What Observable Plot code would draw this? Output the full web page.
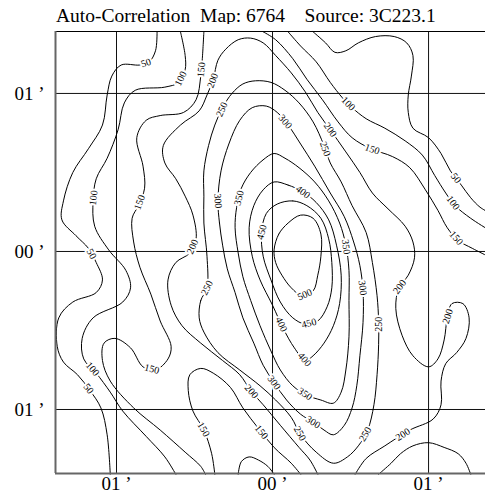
<!DOCTYPE html>
<html>
<head>
<meta charset="utf-8">
<script src="https://cdn.jsdelivr.net/npm/d3@7"></script>
<script src="https://cdn.jsdelivr.net/npm/@observablehq/plot@0.6"></script>
<style>
  html, body { margin: 0; padding: 0; background: #fff; }
  #wrap { position: relative; width: 485px; height: 494px; overflow: hidden; font-family: "Liberation Serif", "DejaVu Serif", serif; }
  #title { position: absolute; left: 56px; top: 6px; font-size: 19.5px; line-height: 20px; white-space: pre; color: #000; }
  #chart { position: absolute; left: 0; top: 24px; }
</style>
</head>
<body>
<div id="wrap">
  <div id="title">Auto-Correlation  Map: 6764    Source: 3C223.1</div>
  <div id="chart"></div>
</div>
<script>
// Offsets are in arcminutes from the map centre (x east-west, y north-south).
const xDomain = [-1.391, 1.365];
const yDomain = [-1.405, 1.392];
const gridTicks = [-1, 0, 1];

// Contour traces: [x, y] vertices along each level line.
const c50west = [[-0.74,1.39],[-0.75,1.27],[-0.79,1.20],[-0.85,1.18],[-0.97,1.18],[-1.03,1.11],[-1.06,0.99],[-1.09,0.80],[-1.18,0.65],[-1.28,0.50],[-1.34,0.32],[-1.35,0.20],[-1.26,0.10],[-1.18,0.02],[-1.13,-0.07],[-1.09,-0.18],[-1.13,-0.26],[-1.28,-0.32],[-1.37,-0.42],[-1.38,-0.60],[-1.34,-0.70],[-1.25,-0.78],[-1.17,-0.88],[-1.10,-0.99],[-1.06,-1.16],[-1.04,-1.41]];
const c50east = [[0.26,1.39],[0.34,1.32],[0.40,1.26],[0.47,1.27],[0.55,1.32],[0.66,1.36],[0.78,1.36],[0.86,1.32],[0.90,1.24],[0.89,1.11],[0.87,0.99],[0.87,0.88],[0.90,0.78],[1.00,0.72],[1.08,0.62],[1.14,0.51],[1.21,0.42],[1.27,0.34],[1.33,0.28],[1.38,0.25]];
const c100west = [[-0.59,1.39],[-0.56,1.24],[-0.56,1.15],[-0.60,1.07],[-0.69,1.04],[-0.88,1.02],[-0.95,0.94],[-0.99,0.77],[-1.06,0.59],[-1.13,0.46],[-1.15,0.32],[-1.14,0.16],[-1.05,0.01],[-0.94,-0.12],[-0.91,-0.23],[-0.96,-0.32],[-1.15,-0.42],[-1.22,-0.55],[-1.21,-0.68],[-1.13,-0.77],[-1.04,-0.89],[-0.96,-1.01],[-0.81,-1.17],[-0.69,-1.30],[-0.62,-1.41]];
const c100east = [[0.10,1.39],[0.18,1.30],[0.28,1.20],[0.37,1.07],[0.45,0.97],[0.51,0.91],[0.60,0.84],[0.72,0.78],[0.85,0.70],[0.96,0.61],[1.04,0.48],[1.11,0.37],[1.17,0.29],[1.27,0.21],[1.38,0.14]];
const c100south = [[-0.22,-1.41],[-0.20,-1.33],[-0.15,-1.30],[-0.09,-1.32],[-0.03,-1.36],[0.01,-1.41]];
const c150west = [[-0.44,1.39],[-0.45,1.22],[-0.46,1.11],[-0.49,0.96],[-0.57,0.88],[-0.72,0.86],[-0.81,0.83],[-0.87,0.72],[-0.83,0.54],[-0.82,0.40],[-0.86,0.29],[-0.90,0.21],[-0.89,0.06],[-0.85,-0.10],[-0.78,-0.27],[-0.72,-0.44],[-0.65,-0.60],[-0.67,-0.68],[-0.75,-0.75],[-0.83,-0.73],[-0.91,-0.61],[-1.01,-0.55],[-1.08,-0.58],[-1.09,-0.69],[-1.04,-0.82],[-0.89,-0.99],[-0.72,-1.13],[-0.56,-1.27],[-0.46,-1.36],[-0.43,-1.41]];
const c150arch = [[-0.37,-1.41],[-0.39,-1.28],[-0.44,-1.13],[-0.51,-1.01],[-0.54,-0.88],[-0.53,-0.78],[-0.46,-0.74],[-0.38,-0.77],[-0.27,-0.86],[-0.19,-0.99],[-0.09,-1.12],[0.01,-1.24],[0.12,-1.34],[0.18,-1.41]];
const c150east = [[-0.06,1.39],[0.02,1.34],[0.13,1.22],[0.22,1.09],[0.32,0.96],[0.42,0.82],[0.51,0.72],[0.63,0.65],[0.77,0.60],[0.88,0.53],[0.98,0.39],[1.06,0.26],[1.12,0.15],[1.19,0.07],[1.28,0.02],[1.38,-0.03]];
const c150south = [[0.68,-1.41],[0.76,-1.34],[0.82,-1.28],[0.90,-1.23],[1.00,-1.21],[1.10,-1.24],[1.19,-1.28],[1.24,-1.34],[1.27,-1.41]];
const c200 = [[0.29,-1.41],[0.24,-1.32],[0.17,-1.24],[0.05,-1.10],[-0.06,-0.97],[-0.14,-0.88],[-0.21,-0.78],[-0.32,-0.69],[-0.46,-0.58],[-0.58,-0.47],[-0.65,-0.34],[-0.67,-0.18],[-0.62,-0.07],[-0.53,-0.01],[-0.49,0.08],[-0.51,0.23],[-0.56,0.35],[-0.62,0.46],[-0.69,0.56],[-0.70,0.67],[-0.59,0.80],[-0.47,0.89],[-0.42,0.99],[-0.38,1.09],[-0.35,1.21],[-0.30,1.28],[-0.22,1.34],[-0.14,1.35],[-0.06,1.32],[0.02,1.24],[0.12,1.13],[0.21,1.01],[0.29,0.88],[0.37,0.77],[0.47,0.63],[0.56,0.50],[0.64,0.37],[0.74,0.27],[0.85,0.16],[0.90,0.06],[0.91,-0.04],[0.87,-0.15],[0.81,-0.23],[0.79,-0.36],[0.83,-0.53],[0.90,-0.66],[1.00,-0.73],[1.06,-0.68],[1.10,-0.56],[1.12,-0.42],[1.15,-0.33],[1.22,-0.33],[1.26,-0.42],[1.24,-0.55],[1.18,-0.64],[1.11,-0.71],[1.08,-0.82],[1.08,-0.97],[1.03,-1.06],[0.88,-1.13],[0.72,-1.23],[0.60,-1.31],[0.53,-1.41]];
const c250 = [[-0.42,-0.23],[-0.46,-0.31],[-0.47,-0.42],[-0.44,-0.51],[-0.35,-0.64],[-0.21,-0.75],[-0.08,-0.85],[0.02,-0.94],[0.12,-1.05],[0.18,-1.16],[0.28,-1.27],[0.39,-1.34],[0.48,-1.30],[0.55,-1.23],[0.61,-1.13],[0.65,-0.97],[0.67,-0.78],[0.68,-0.59],[0.68,-0.44],[0.67,-0.28],[0.64,-0.07],[0.60,0.12],[0.51,0.29],[0.44,0.44],[0.37,0.56],[0.33,0.67],[0.26,0.82],[0.17,0.94],[0.08,1.02],[-0.01,1.07],[-0.11,1.08],[-0.19,1.06],[-0.26,1.00],[-0.32,0.91],[-0.37,0.80],[-0.41,0.67],[-0.44,0.51],[-0.44,0.35],[-0.44,0.18],[-0.42,-0.03]];
const c300 = [[-0.35,0.32],[-0.34,0.18],[-0.32,0.04],[-0.29,-0.11],[-0.24,-0.26],[-0.19,-0.42],[-0.12,-0.58],[-0.06,-0.72],[0.01,-0.83],[0.09,-0.94],[0.18,-1.03],[0.26,-1.08],[0.33,-1.13],[0.39,-1.16],[0.46,-1.10],[0.51,-0.99],[0.54,-0.85],[0.56,-0.66],[0.58,-0.45],[0.58,-0.25],[0.56,-0.09],[0.52,0.06],[0.46,0.22],[0.37,0.37],[0.27,0.54],[0.18,0.68],[0.10,0.80],[0.03,0.88],[-0.04,0.92],[-0.13,0.91],[-0.21,0.83],[-0.28,0.68],[-0.33,0.51]];
const c350 = [[0.01,0.62],[-0.06,0.58],[-0.14,0.50],[-0.20,0.40],[-0.23,0.28],[-0.24,0.15],[-0.22,-0.01],[-0.19,-0.16],[-0.14,-0.31],[-0.08,-0.47],[-0.01,-0.63],[0.05,-0.75],[0.13,-0.85],[0.22,-0.91],[0.31,-0.94],[0.39,-0.96],[0.44,-0.89],[0.47,-0.75],[0.49,-0.54],[0.49,-0.31],[0.49,-0.12],[0.47,0.04],[0.43,0.18],[0.36,0.32],[0.27,0.44],[0.17,0.53],[0.08,0.59]];
const c400 = [[0.01,0.44],[0.10,0.42],[0.19,0.38],[0.28,0.31],[0.36,0.20],[0.41,0.04],[0.44,-0.15],[0.43,-0.33],[0.39,-0.47],[0.33,-0.58],[0.26,-0.66],[0.21,-0.69],[0.14,-0.61],[0.07,-0.49],[0.00,-0.34],[-0.08,-0.18],[-0.13,-0.03],[-0.15,0.15],[-0.12,0.29],[-0.06,0.39]];
const c450 = [[0.03,0.30],[0.13,0.32],[0.22,0.29],[0.31,0.21],[0.36,0.08],[0.38,-0.07],[0.38,-0.23],[0.35,-0.35],[0.29,-0.44],[0.21,-0.46],[0.13,-0.42],[0.05,-0.32],[-0.01,-0.18],[-0.06,-0.03],[-0.07,0.12],[-0.04,0.24]];
const c500 = [[0.01,0.01],[0.04,0.11],[0.10,0.18],[0.18,0.23],[0.26,0.21],[0.31,0.11],[0.31,-0.03],[0.29,-0.15],[0.26,-0.25],[0.19,-0.28],[0.12,-0.23],[0.06,-0.15],[0.02,-0.07]];

const contourLevels = [50, 50, 100, 100, 100, 150, 150, 150, 150, 200, 250, 300, 350, 400, 450, 500];
const contourTraces = [c50west, c50east, c100west, c100east, c100south, c150west, c150arch, c150east, c150south, c200, c250, c300, c350, c400, c450, c500];
const contourClosed = [false, false, false, false, false, false, false, false, false, false, true, true, true, true, true, true];

// Level labels: value and approximate position along its contour.
const labelLevels = [50, 50, 50, 100, 100, 100, 150, 150, 150, 150, 150, 200, 200, 200, 200, 200, 200, 200, 250, 250, 250, 250, 250, 250, 300, 300, 300, 300, 300, 350, 350, 350, 400, 400, 400, 450, 450, 500, 50, 100, 100, 150, 150];
const labelX = [-0.81, -1.15, -1.18, -0.58, -1.15, -1.15, -0.45, -0.85, -0.78, -0.45, -0.08, -0.38, -0.49, -0.14, 0.37, 0.81, 1.12, 0.83, -0.35, -0.42, 0.34, 0.68, 0.16, 0.60, -0.35, 0.08, 0.58, 0.01, 0.26, -0.22, 0.48, 0.21, 0.19, 0.06, 0.21, -0.06, 0.23, 0.21, 1.17, 0.49, 1.16, 0.64, 1.16];
const labelY = [1.19, -0.01, -0.87, 1.09, 0.34, -0.74, 1.15, 0.31, -0.77, -1.13, -1.15, 1.08, 0.02, -0.89, 0.77, -0.22, -0.41, -1.15, 0.91, -0.23, 0.65, -0.46, -1.16, -1.16, 0.32, 0.82, -0.23, -0.83, -1.08, 0.34, 0.03, -0.90, 0.37, -0.46, -0.68, 0.12, -0.44, -0.28, 0.46, 0.94, 0.31, 0.65, 0.07];

const width = 485, height = 470;
const margin = {top: 7, right: 0, bottom: 21, left: 55};
const innerW = width - margin.left - margin.right;
const innerH = height - margin.top - margin.bottom;
const kx = innerW / (xDomain[1] - xDomain[0]);
const ky = innerH / (yDomain[1] - yDomain[0]);

// Line tables for Plot.line
const openRows = [], closedRows = [];
contourTraces.forEach((trace, i) => {
  const rows = contourClosed[i] ? closedRows : openRows;
  trace.forEach(([x, y]) => rows.push({id: i, level: contourLevels[i], x, y}));
});

// Snap each label onto its contour and align it with the local direction.
const labels = labelLevels.map((level, j) => {
  const px = labelX[j] * kx, py = -labelY[j] * ky;
  let best = null;
  contourTraces.forEach((trace, i) => {
    if (contourLevels[i] !== level) return;
    const n = trace.length, segs = contourClosed[i] ? n : n - 1;
    for (let k = 0; k < segs; ++k) {
      const a = trace[k], b = trace[(k + 1) % n];
      const ax = a[0] * kx, ay = -a[1] * ky, bx = b[0] * kx, by = -b[1] * ky;
      const dx = bx - ax, dy = by - ay, L2 = dx * dx + dy * dy || 1;
      const t = Math.max(0, Math.min(1, ((px - ax) * dx + (py - ay) * dy) / L2));
      const qx = ax + t * dx, qy = ay + t * dy;
      const d = (qx - px) ** 2 + (qy - py) ** 2;
      if (!best || d < best.d) best = {d, qx, qy, ang: Math.atan2(dy, dx) * 180 / Math.PI};
    }
  });
  let ang = best.ang;
  if (ang > 90) ang -= 180;
  if (ang < -90) ang += 180;
  return {text: String(level), x: best.qx / kx, y: -best.qy / ky, rotate: ang};
});

const tickText = d => (d === 0 ? "00 \u2019" : "01 \u2019");

const chart = Plot.plot({
  width, height,
  marginTop: margin.top, marginRight: margin.right, marginBottom: margin.bottom, marginLeft: margin.left,
  style: {fontFamily: "'Liberation Serif', 'Times New Roman', serif", background: "white", overflow: "visible"},
  x: {domain: xDomain, label: null},
  y: {domain: yDomain, label: null},
  marks: [
    Plot.axisX({ticks: gridTicks, tickFormat: tickText, tickSize: 0, tickPadding: 3, fontSize: 19, label: null}),
    Plot.axisY({ticks: gridTicks, tickFormat: tickText, tickSize: 0, tickPadding: 11, fontSize: 19, label: null}),
    Plot.ruleX(gridTicks, {stroke: "#111", strokeWidth: 1}),
    Plot.ruleY(gridTicks, {stroke: "#111", strokeWidth: 1}),
    Plot.line(openRows, {x: "x", y: "y", z: "id", curve: "catmull-rom", stroke: "black", strokeWidth: 1}),
    Plot.line(closedRows, {x: "x", y: "y", z: "id", curve: "catmull-rom-closed", stroke: "black", strokeWidth: 1}),
    Plot.text(labels, {x: "x", y: "y", text: "text", rotate: "rotate", fontSize: 10, fill: "black", stroke: "white", strokeWidth: 4, fontFamily: "'Liberation Serif', serif"}),
    Plot.ruleY([yDomain[1]], {stroke: "black", strokeWidth: 1}),
    Plot.ruleX([xDomain[0]], {stroke: "#666", strokeWidth: 2}),
    Plot.ruleY([yDomain[0]], {stroke: "#666", strokeWidth: 2})
  ]
});
document.getElementById("chart").appendChild(chart);
</script>
</body>
</html>
